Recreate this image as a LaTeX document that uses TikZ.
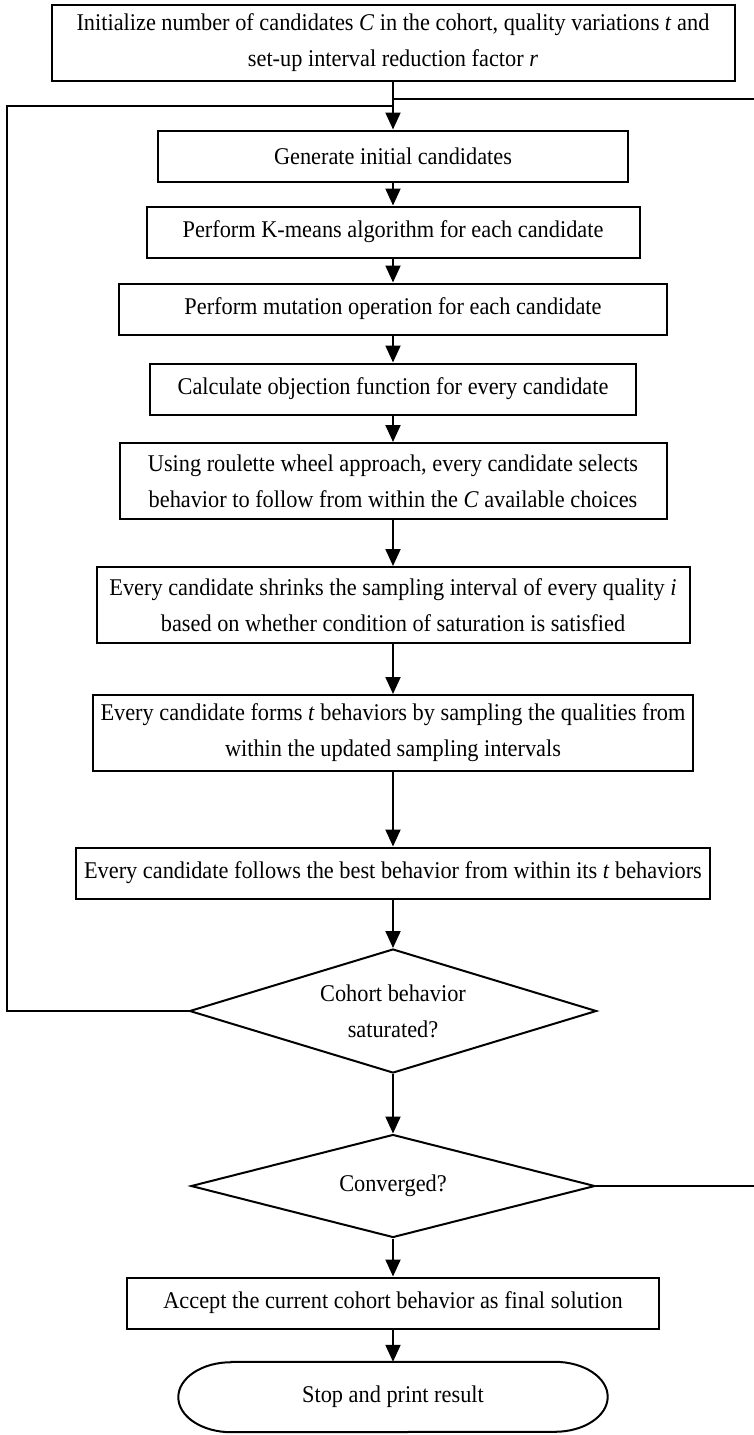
\documentclass[tikz,border=0pt]{standalone}
\usepackage{fontspec}
\setmainfont{Liberation Serif}[FakeStretch=0.93]
\usetikzlibrary{shapes.geometric,arrows.meta}

\tikzset{
  every node/.style={font=\fontsize{24pt}{36pt}\selectfont},
  box/.style={draw, line width=2pt, align=center, inner xsep=8pt, inner ysep=0pt, minimum height=51pt},
  tallbox/.style={box, minimum height=76pt},
  test/.style={draw, diamond, aspect=3.3, line width=2pt, align=center, inner sep=0pt},
  flow/.style={line width=2pt, -{Triangle[length=17pt,width=15pt]}},
  back/.style={line width=2pt},
}

\begin{document}
\begin{tikzpicture}[x=1pt,y=-1pt]
  \useasboundingbox (0,0) rectangle (754,1435);
  % Schritte
  \node[tallbox, minimum width=683pt] (init) at (393,43)
    {Initialize number of candidates \textit{C} in the cohort, quality variations \textit{t} and\\
     set-up interval reduction factor \textit{r}};
  \node[box, minimum width=470pt] (gen) at (393,156) {Generate initial candidates};
  \node[box, minimum width=493pt] (km) at (393,232) {Perform K-means algorithm for each candidate};
  \node[box, minimum width=548pt] (mut) at (393,309) {Perform mutation operation for each candidate};
  \node[box, minimum width=486pt] (calc) at (393,389) {Calculate objection function for every candidate};
  \node[tallbox, minimum width=547pt] (roul) at (393,481)
    {Using roulette wheel approach, every candidate selects\\
     behavior to follow from within the \textit{C} available choices};
  \node[tallbox, minimum width=593pt] (shr) at (393,605)
    {Every candidate shrinks the sampling interval of every quality \textit{i}\\
     based on whether condition of saturation is satisfied};
  \node[tallbox, minimum width=593pt] (form) at (393,733)
    {Every candidate forms \textit{t} behaviors by sampling the qualities from\\
     within the updated sampling intervals};
  \node[box, minimum width=593pt] (fol) at (393,873)
    {Every candidate follows the best behavior from within its \textit{t} behaviors};
  % Abfragen
  \node[test, minimum width=407pt, minimum height=124pt] (sat) at (393,1011)
    {Cohort behavior\\ saturated?};
  \node[test, minimum width=404pt, minimum height=103pt] (conv) at (393,1186) {Converged?};
  \node[box, minimum width=532pt] (acc) at (393,1303) {Accept the current cohort behavior as final solution};
  \node[minimum width=429pt, minimum height=70pt] (stop) at (393,1397) {Stop and print result};
  \draw[back] ([xshift=53pt]stop.north west) -- ([xshift=-53pt]stop.north east)
    arc[start angle=90, end angle=-90, x radius=53pt, y radius=35pt]
    -- ([xshift=53pt]stop.south west)
    arc[start angle=270, end angle=90, x radius=53pt, y radius=35pt] -- cycle;
  % Pfeile
  \foreach \a/\b in {init/gen, gen/km, km/mut, mut/calc, calc/roul, roul/shr,
                     shr/form, form/fol, fol/sat, sat/conv, conv/acc, acc/stop} {
    \draw[flow] (\a.south) -- (\b.north);
  }
  % Rueckfuehrungen
  \coordinate (lft) at (7,106);
  \coordinate (rgt) at (757,99);
  \draw[back] (sat.west) -| (lft) -- (lft -| init.south);
  \draw[back] (conv.east) -| (rgt) -- (rgt -| init.south);
\end{tikzpicture}
\end{document}
